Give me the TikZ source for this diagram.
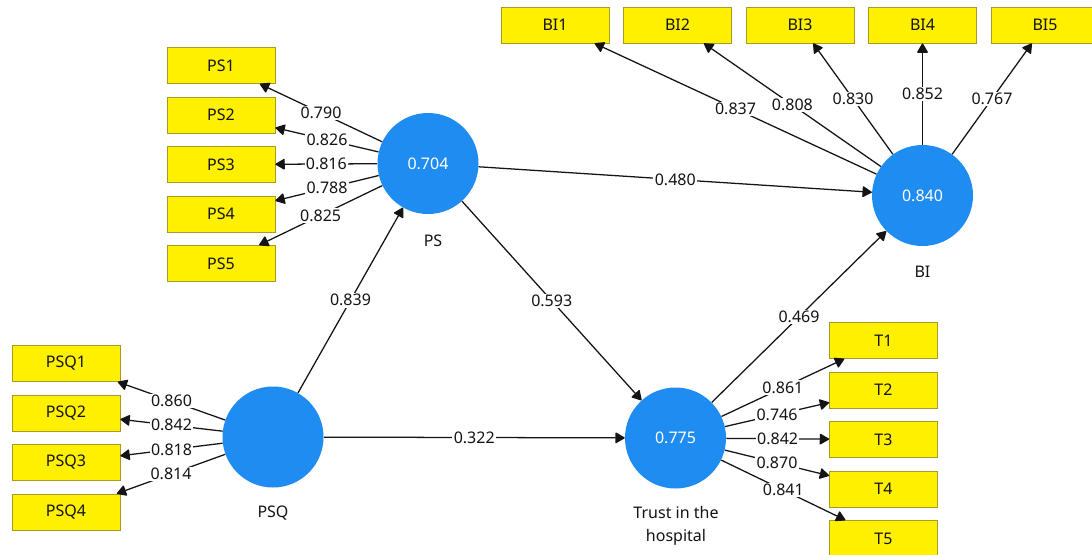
\documentclass[tikz,border=0pt]{standalone}
\usepackage{fontspec}
\setmainfont{Noto Sans}
\usetikzlibrary{arrows.meta}
\definecolor{boxyellow}{RGB}{255,240,0}
\definecolor{boxedge}{RGB}{165,155,40}
\definecolor{lvblue}{RGB}{30,140,240}
\definecolor{inkc}{RGB}{20,20,20}
\begin{document}
\begin{tikzpicture}[x=0.75pt,y=-0.75pt,
  every node/.style={font=\fontsize{12}{14}\selectfont, text=inkc},
  indicator/.style={draw=boxedge, fill=boxyellow, minimum width=81pt, minimum height=27pt, inner sep=0pt, line width=0.6pt},
  latent/.style={circle, fill=lvblue, minimum size=75.75pt, inner sep=0pt, text=white},
  caption/.style={align=center, font=\fontsize{12}{17}\selectfont},
  link/.style={draw=inkc, line width=0.95pt, -{Triangle[length=7.5pt,width=8.5pt,round]}},
  coef/.style={fill=white, inner sep=1pt, pos=0.5}
]
\useasboundingbox (0,0) rectangle (1092,554);
\clip (0,0) rectangle (1092,554);
\fill[white] (0,0) rectangle (1092,554);

% latent variables
\node[latent] (ps) at (428,163.5) {0.704};
\node[latent] (psq) at (273,437) {};
\node[latent] (trust) at (675.5,438) {0.775};
\node[latent] (bi) at (922.5,195.5) {0.840};

\node[caption] (pslab) at (433,241) {PS};
\node[caption] (psqlab) at (273,513) {PSQ};
\node[caption] (bilab) at (922.5,272) {BI};
\node[caption] (trustlab) at (676,525.5) {Trust in the\\hospital};

% indicators
\foreach \i/\y in {1/65.5,2/115,3/164.5,4/214,5/263.5}
  \node[indicator] (ps\i) at (221,\y) {PS\i};
\foreach \i/\y in {1/363.5,2/413,3/462.5,4/512}
  \node[indicator] (psq\i) at (66,\y) {PSQ\i};
\foreach \i/\y in {1/340.5,2/390,3/439.5,4/489,5/538.5}
  \node[indicator] (t\i) at (883.5,\y) {T\i};
\foreach \i/\x in {1/555,2/677.5,3/800,4/922.5,5/1045}
  \node[indicator] (bi\i) at (\x,25) {BI\i};

% outer loadings
\foreach \i/\v in {1/0.790,2/0.826,3/0.816,4/0.788,5/0.825}
  \draw[link] (ps) -- node[coef] (lps\i) {\v} (ps\i);
\foreach \i/\v in {1/0.860,2/0.842,3/0.818,4/0.814}
  \draw[link] (psq) -- node[coef] (lpsq\i) {\v} (psq\i);
\foreach \i/\v in {1/0.861,2/0.746,3/0.842,4/0.870,5/0.841}
  \draw[link] (trust) -- node[coef] (lt\i) {\v} (t\i);
\foreach \i/\v in {1/0.837,2/0.808,3/0.830,4/0.852,5/0.767}
  \draw[link] (bi) -- node[coef] (lbi\i) {\v} (bi\i);

% structural paths
\draw[link] (psq) -- node[coef] (c1) {0.839} (ps);
\draw[link] (psq) -- node[coef] (c2) {0.322} (trust);
\draw[link] (ps) -- node[coef] (c3) {0.593} (trust);
\draw[link] (ps) -- node[coef] (c4) {0.480} (bi);
\draw[link] (trust) -- node[coef] (c5) {0.469} (bi);
\end{tikzpicture}
\end{document}
